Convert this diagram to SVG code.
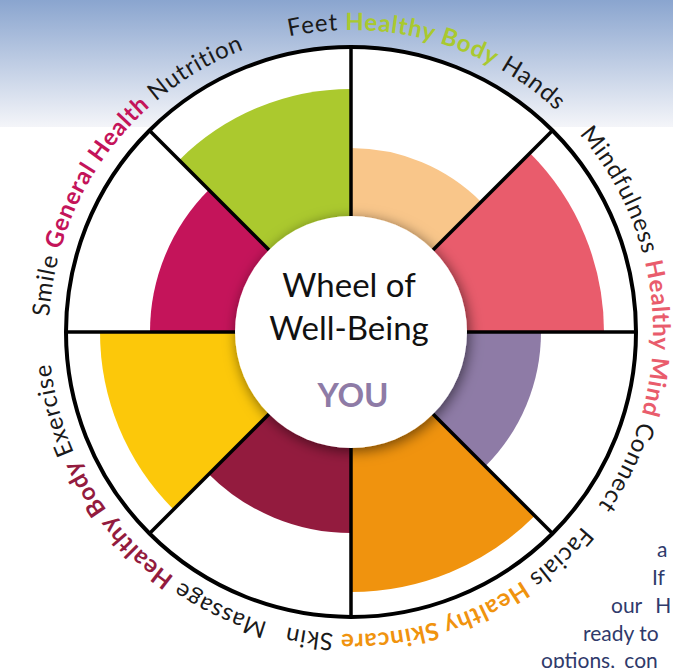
<svg xmlns="http://www.w3.org/2000/svg" xmlns:xlink="http://www.w3.org/1999/xlink" width="673" height="668" viewBox="0 0 673 668">
<defs>
<linearGradient id="bg" x1="0" y1="0" x2="0" y2="1">
<stop offset="0" stop-color="#8AA5CF"/>
<stop offset="1" stop-color="#F4F5F9"/>
</linearGradient>
<filter id="sh" x="-30%" y="-30%" width="160%" height="160%">
<feDropShadow dx="2" dy="3" stdDeviation="7" flood-color="#000" flood-opacity="0.55"/>
</filter>
<path id="ring" d="M351,30 A302,302 0 1 1 351,634 A302,302 0 1 1 351,30 A302,302 0 1 1 351,634 A302,302 0 1 1 351,30"/>
<style>
.lbl{font-family:Lato,"Open Sans",sans-serif;font-size:24px;letter-spacing:0.8px;fill:#1a1a1a;}
.b{font-weight:bold;}
.ctr{font-family:Lato,"Open Sans",sans-serif;font-size:33px;fill:#111;text-anchor:middle;}
.side{font-family:Lato,"Open Sans",sans-serif;font-size:21px;fill:#2F3A6B;}
.spoke{stroke:#000;stroke-width:3.5;}
</style>
</defs>
<rect x="0" y="0" width="673" height="668" fill="#fff"/>
<rect x="0" y="0" width="673" height="127" fill="url(#bg)"/>
<g id="wheel">
<circle cx="351" cy="332" r="285" fill="#fff"/>
<path d="M351,332 L351,148 A184,184 0 0 1 481.1,201.9 Z" fill="#F9C68A"/>
<path d="M351,332 L529.9,153.1 A253,253 0 0 1 604,332 Z" fill="#E95C6C"/>
<path d="M351,332 L541,332 A190,190 0 0 1 485.35,466.35 Z" fill="#8E7BA6"/>
<path d="M351,332 L534.85,515.85 A260,260 0 0 1 351,592 Z" fill="#F0930E"/>
<path d="M351,332 L351,533 A201,201 0 0 1 208.87,474.13 Z" fill="#931B3E"/>
<path d="M351,332 L173.52,509.48 A251,251 0 0 1 100,332 Z" fill="#FCC80A"/>
<path d="M351,332 L150,332 A201,201 0 0 1 208.87,189.87 Z" fill="#C4145A"/>
<path d="M351,332 L179.17,160.17 A243,243 0 0 1 351,89 Z" fill="#ABC92E"/>
</g>
<g id="connectors">
<line class="spoke" x1="351" y1="47" x2="351" y2="617"/>
<line class="spoke" x1="66" y1="332" x2="636" y2="332"/>
<line class="spoke" x1="149.5" y1="130.5" x2="552.5" y2="533.5"/>
<line class="spoke" x1="552.5" y1="130.5" x2="149.5" y2="533.5"/>
<circle cx="351" cy="332" r="285" fill="none" stroke="#000" stroke-width="4"/>
</g>
<g id="center">
<circle cx="351" cy="332" r="116" fill="#fff" filter="url(#sh)"/>
<text class="ctr" x="349" y="297">Wheel of</text>
<text class="ctr" x="349" y="340">Well-Being</text>
<text class="ctr" x="353" y="407" style="font-weight:bold;fill:#8E7BA6">YOU</text>
</g>
<g id="labels">
<text class="lbl" text-anchor="middle"><textPath xlink:href="#ring" href="#ring" startOffset="1979">Feet <tspan class="b" fill="#A9C92F">Healthy Body</tspan> Hands</textPath></text>
<text class="lbl" text-anchor="middle"><textPath xlink:href="#ring" href="#ring" startOffset="459">Mindfulness <tspan class="b" fill="#E95C6C">Healthy Mind</tspan> Connect</textPath></text>
<text class="lbl" text-anchor="middle"><textPath xlink:href="#ring" href="#ring" startOffset="849">Facials <tspan class="b" fill="#F0930E">Healthy Skincare</tspan> Skin</textPath></text>
<text class="lbl" text-anchor="middle"><textPath xlink:href="#ring" href="#ring" startOffset="1212">Massage <tspan class="b" fill="#931B3E">Healthy Body</tspan> Exercise</textPath></text>
<text class="lbl" text-anchor="middle"><textPath xlink:href="#ring" href="#ring" startOffset="1613">Smile <tspan class="b" fill="#C4145A">General Health</tspan> Nutrition</textPath></text>
</g>
<g id="sidetext">
<text class="side" x="657" y="557">a</text>
<text class="side" x="652" y="585">If</text>
<text class="side" x="611" y="613" word-spacing="8">our H</text>
<text class="side" x="583" y="641">ready to</text>
<text class="side" x="541" y="668" word-spacing="4">options, con</text>
</g>
</svg>
